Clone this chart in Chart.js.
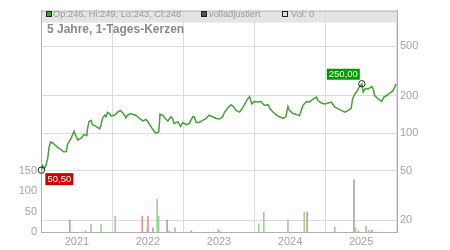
<!DOCTYPE html>
<html>
<head>
<meta charset="utf-8">
<script src="https://cdn.jsdelivr.net/npm/chart.js@4.4.1/dist/chart.umd.min.js"></script>
<style>
  html, body { margin: 0; padding: 0; background: #fff; }
  canvas { display: block; }
</style>
</head>
<body>
<canvas id="kurs" width="450" height="250"></canvas>
<script>
// Kursverlauf (Dezimaljahr, Schlusskurs)
var priceDates = [2020.50, 2020.52, 2020.54, 2020.56, 2020.59, 2020.61, 2020.63, 2020.66, 2020.68, 2020.73,
  2020.77, 2020.82, 2020.85, 2020.87, 2020.92, 2020.94, 2020.96, 2020.99, 2021.01, 2021.06,
  2021.10, 2021.14, 2021.15, 2021.17, 2021.20, 2021.22, 2021.27, 2021.32, 2021.34, 2021.36,
  2021.39, 2021.41, 2021.43, 2021.46, 2021.48, 2021.53, 2021.57, 2021.61, 2021.64, 2021.67,
  2021.69, 2021.71, 2021.75, 2021.78, 2021.83, 2021.88, 2021.93, 2021.97, 2022.00, 2022.04,
  2022.08, 2022.11, 2022.15, 2022.16, 2022.17, 2022.21, 2022.25, 2022.28, 2022.32, 2022.35,
  2022.37, 2022.42, 2022.46, 2022.49, 2022.54, 2022.58, 2022.63, 2022.65, 2022.68, 2022.72,
  2022.77, 2022.82, 2022.86, 2022.91, 2022.96, 2023.01, 2023.05, 2023.08, 2023.12, 2023.17,
  2023.21, 2023.24, 2023.29, 2023.32, 2023.36, 2023.39, 2023.43, 2023.46, 2023.50, 2023.55,
  2023.59, 2023.64, 2023.69, 2023.72, 2023.76, 2023.80, 2023.85, 2023.90, 2023.94, 2023.97,
  2023.99, 2024.04, 2024.08, 2024.13, 2024.15, 2024.18, 2024.23, 2024.27, 2024.32, 2024.37,
  2024.39, 2024.44, 2024.49, 2024.54, 2024.58, 2024.63, 2024.68, 2024.72, 2024.77, 2024.82,
  2024.86, 2024.88, 2024.91, 2024.95, 2024.97, 2025.01, 2025.03, 2025.06, 2025.10, 2025.15,
  2025.17, 2025.19, 2025.24, 2025.29, 2025.32, 2025.36, 2025.40, 2025.45, 2025.49];
var priceValues = [50.5, 55, 52.5, 54, 63, 78, 85, 83.5, 81.6, 76.9,
  74.1, 70.6, 71.5, 81.6, 91.4, 97.5, 103.8, 94, 88.4, 91.4,
  97.5, 96, 109, 123.8, 127, 117, 113.7, 108.6, 116.2, 131.5,
  139.5, 135.6, 147, 144, 138, 139.5, 147, 152.6, 147, 139.5,
  133, 139.5, 144, 142.3, 139.5, 131.5, 125.5, 129, 123.8, 113.7,
  104.5, 100, 102, 116, 142.3, 139.5, 130, 125, 135.6, 130,
  119.4, 123.8, 113.7, 122, 117, 119.4, 135.6, 135.6, 122, 122,
  127, 131.5, 139.5, 135.6, 131.5, 130, 135.6, 148, 159, 169.6,
  162, 152.6, 148, 156.5, 169.6, 184, 197, 172, 180, 178,
  180, 167, 169.6, 157, 148, 141, 135.6, 131.5, 135.6, 164,
  152.6, 144, 142.3, 138, 148, 167, 180, 178, 187.5, 195,
  184, 175, 172, 175, 178, 162, 157, 152.6, 148, 152.6,
  159, 189, 206, 220, 234, 250, 214, 229, 227, 237,
  227, 201, 189, 180, 195, 201, 210, 220, 248];

// Umsatz (Dezimaljahr, Volumen, Richtung u/d/n)
var volDates = [2020.90, 2021.12, 2021.20, 2021.34, 2021.54, 2021.92, 2021.99, 2022.00, 2022.07, 2022.13,
  2022.15, 2022.27, 2022.30, 2022.38, 2022.61, 2022.99, 2023.01, 2023.56, 2023.63, 2023.97,
  2024.20, 2024.24, 2024.63, 2024.90, 2024.92, 2024.96, 2025.07, 2025.11, 2025.15];
var volValues = [29, 3, 19, 19, 39, 39, 11, 39, 10, 80,
  39, 29, 3, 10, 3, 7, 2, 20, 49, 29,
  49, 49, 12, 128, 10, 2, 15, 4, 5];
var volDir = ['d', 'u', 'u', 'u', 'u', 'd', 'u', 'd', 'n', 'u',
  'u', 'n', 'u', 'u', 'd', 'u', 'u', 'u', 'u', 'u',
  'u', 'd', 'u', 'n', 'u', 'd', 'u', 'u', 'd'];

var yearTicks = [2021, 2022, 2023, 2024, 2025];
var volTicks = [0, 50, 100, 150];
var priceTicks = [20, 50, 100, 200, 500];

var titel = '5 Jahre, 1-Tages-Kerzen';
var legendeOhlc = 'Op:246, Hi:249, Lo:243, Cl:248';
var legendeAdj = 'volladjustiert';
var legendeVol = 'Vol: 0';
var tiefLabel = '50,50';
var hochLabel = '250,00';

var FONT = "'Liberation Sans', Arial, sans-serif";
var volFarben = { u: '#98d490', d: '#ec8e98', n: '#a9a9a9' };

var preisPunkte = priceDates.map(function (d, i) { return { x: d, y: priceValues[i] }; });
var volPunkte = volDates.map(function (d, i) { return { x: d, y: volValues[i] }; });

// Kopfzeile mit Legende und Titel, Markierungen fuer Tief/Hoch
var kopfPlugin = {
  id: 'kopf',
  beforeDraw: function (chart) {
    var c = chart.ctx, a = chart.chartArea;
    c.save();
    c.fillStyle = '#e4e4e4';
    c.fillRect(a.left, a.top, a.right - a.left, 12);
    c.restore();
  },
  afterDatasetsDraw: function (chart) {
    var c = chart.ctx, a = chart.chartArea;
    c.save();
    // Rahmen oben
    c.strokeStyle = '#b8b8b8';
    c.lineWidth = 1;
    c.beginPath();
    c.moveTo(a.left, a.top + 0.5);
    c.lineTo(a.right, a.top + 0.5);
    c.stroke();

    function kasten(x, fill) {
      c.fillStyle = fill;
      c.fillRect(x + 0.5, 11.5, 5, 5);
      c.strokeStyle = '#222';
      c.strokeRect(x + 0.5, 11.5, 5, 5);
    }
    c.font = '9.3px ' + FONT;
    c.textBaseline = 'middle';
    kasten(46, '#3aa52a');
    c.fillStyle = '#9a9a9a';
    c.fillText(legendeOhlc, 53, 14);
    kasten(201, '#555');
    c.fillStyle = '#9a9a9a';
    c.fillText(legendeAdj, 209, 14);
    kasten(282, '#ddd');
    c.fillStyle = '#9a9a9a';
    c.fillText(legendeVol, 291, 14);

    c.font = 'bold 12px ' + FONT;
    c.fillStyle = '#8a8a8a';
    c.fillText(titel, 47, 30);

    // Tief / Hoch
    var xs = chart.scales.x, ys = chart.scales.preis;
    var iMin = 0, iMax = 0;
    priceValues.forEach(function (v, i) {
      if (v < priceValues[iMin]) iMin = i;
      if (v > priceValues[iMax]) iMax = i;
    });
    var lx = xs.getPixelForValue(priceDates[iMin]), ly = ys.getPixelForValue(priceValues[iMin]);
    var hx = xs.getPixelForValue(priceDates[iMax]), hy = ys.getPixelForValue(priceValues[iMax]);

    c.font = '9.5px ' + FONT;
    c.textAlign = 'center';
    c.fillStyle = '#cc0000';
    c.fillRect(lx + 4, ly + 3, 28, 12);
    c.fillStyle = '#fff';
    c.fillText(tiefLabel, lx + 18, ly + 9.5);

    c.fillStyle = '#009900';
    c.fillRect(hx - 35, hy - 15, 33, 11);
    c.fillStyle = '#fff';
    c.fillText(hochLabel, hx - 18.5, hy - 9);

    c.strokeStyle = '#222';
    c.lineWidth = 1;
    [[lx, ly], [hx, hy]].forEach(function (p) {
      c.beginPath();
      c.arc(p[0], p[1], 3.2, 0, Math.PI * 2);
      c.stroke();
    });
    c.restore();
  }
};

var kursChart = new Chart(document.getElementById('kurs'), {
  data: {
    datasets: [{
      type: 'line',
      label: 'Kurs',
      data: preisPunkte,
      yAxisID: 'preis',
      borderColor: '#45a035',
      borderWidth: 1.5,
      pointRadius: 0,
      tension: 0,
      order: 0
    }, {
      type: 'bar',
      label: 'Volumen',
      data: volPunkte,
      yAxisID: 'vol',
      backgroundColor: volDir.map(function (d) { return volFarben[d]; }),
      barThickness: 1,
      order: 1
    }]
  },
  options: {
    responsive: false,
    animation: false,
    layout: { padding: { top: 7, left: 0, right: 0, bottom: 0 } },
    plugins: { legend: { display: false }, tooltip: { enabled: false } },
    scales: {
      x: {
        type: 'linear',
        min: 2020.495,
        max: 2025.505,
        offset: false,
        afterBuildTicks: function (s) { s.ticks = yearTicks.map(function (v) { return { value: v }; }); },
        afterFit: function (s) { s.height = 18; },
        ticks: {
          callback: function (v) { return String(v); },
          color: '#a3a3a3',
          font: { family: FONT, size: 11 },
          padding: 3,
          maxRotation: 0,
          autoSkip: false
        },
        grid: { color: '#dcdcdc', drawTicks: false },
        border: { color: '#b0b0b0' }
      },
      vol: {
        type: 'linear',
        position: 'left',
        min: 0,
        max: 544,
        afterBuildTicks: function (s) { s.ticks = volTicks.map(function (v) { return { value: v }; }); },
        afterFit: function (s) { s.width = 41; },
        ticks: {
          callback: function (v) { return String(v); },
          color: '#a3a3a3',
          font: { family: FONT, size: 11 },
          padding: 4
        },
        grid: { display: false, drawTicks: false },
        border: { color: '#b0b0b0' }
      },
      preis: {
        type: 'logarithmic',
        position: 'right',
        min: 16.07,
        max: 968,
        afterBuildTicks: function (s) { s.ticks = priceTicks.map(function (v) { return { value: v }; }); },
        afterFit: function (s) { s.width = 53; },
        ticks: {
          callback: function (v) { return String(v); },
          color: '#a3a3a3',
          font: { family: FONT, size: 11 },
          padding: 3
        },
        grid: { color: '#dcdcdc', drawTicks: false },
        border: { color: '#b0b0b0' }
      }
    }
  },
  plugins: [kopfPlugin]
});
</script>
</body>
</html>
